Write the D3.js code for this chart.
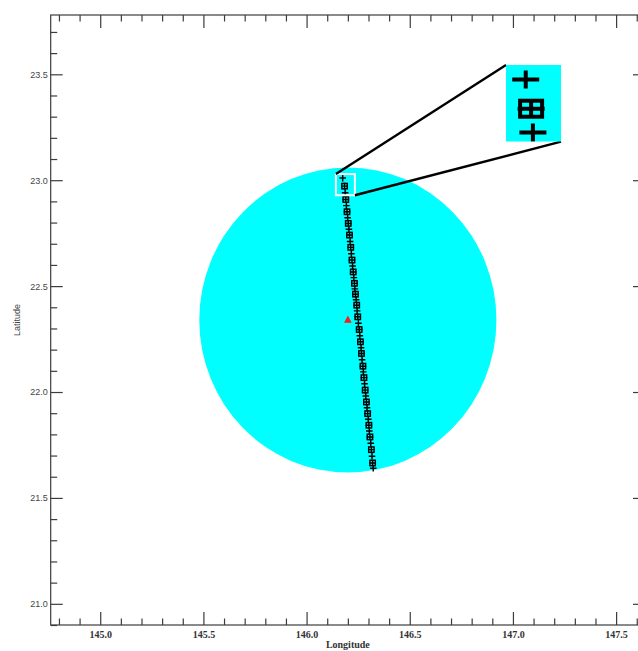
<!DOCTYPE html>
<html>
<head>
<meta charset="utf-8">
<script src="https://cdn.jsdelivr.net/npm/d3@7"></script>
<style>
  html, body { margin: 0; padding: 0; background: #fff; }
  svg { display: block; }
</style>
</head>
<body>
<svg id="chart" width="638" height="651"></svg>
<script>
// Track fixes every other sample (plus markers only)
const plusLon = [146.175, 146.187, 146.193, 146.199, 146.205, 146.211, 146.217, 146.223, 146.229,
  146.234, 146.240, 146.245, 146.251, 146.258, 146.264, 146.269, 146.275, 146.281, 146.287,
  146.293, 146.299, 146.304, 146.311, 146.317, 146.323];
const plusLat = [23.010, 22.941, 22.880, 22.823, 22.768, 22.711, 22.653, 22.595, 22.540,
  22.487, 22.436, 22.383, 22.325, 22.266, 22.209, 22.152, 22.095, 22.039, 21.981,
  21.926, 21.871, 21.816, 21.758, 21.697, 21.640];
// Track fixes drawn as boxed plus markers
const boxLon = [146.184, 146.190, 146.196, 146.202, 146.208, 146.214, 146.220, 146.226,
  146.232, 146.237, 146.243, 146.248, 146.255, 146.261, 146.266, 146.273, 146.278, 146.284,
  146.290, 146.296, 146.302, 146.307, 146.314, 146.320];
const boxLat = [22.972, 22.909, 22.851, 22.796, 22.741, 22.683, 22.623, 22.567,
  22.513, 22.462, 22.410, 22.355, 22.295, 22.237, 22.182, 22.122, 22.068, 22.009,
  21.953, 21.898, 21.843, 21.788, 21.728, 21.665];
// Station and coverage radius (degrees)
const stationLon = 146.2;
const stationLat = 22.34;
const coverRadius = 0.72;
// Map extent
const lonDomain = [144.76, 147.64];
const latDomain = [20.90, 23.78];
const lonMajor = [145.0, 145.5, 146.0, 146.5, 147.0, 147.5];
const latMajor = [21.0, 21.5, 22.0, 22.5, 23.0, 23.5];
const lonMinor = d3.range(144.8, 147.65, 0.1).map(v => +v.toFixed(1)).filter(v => !lonMajor.includes(v));
const latMinor = d3.range(20.9, 23.79, 0.1).map(v => +v.toFixed(1)).filter(v => !latMajor.includes(v));
// Zoomed window on the start of the track
const zoomLon = [146.142, 146.234];
const zoomLat = [23.029, 22.929];

const svg = d3.select("#chart");
const plotL = 50.7, plotR = 645, plotT = 15, plotB = 625;
const x = d3.scaleLinear().domain(lonDomain).range([plotL, plotR]);
const y = d3.scaleLinear().domain(latDomain).range([plotB, plotT]);

const axisColor = "#3c3c3c";

// coverage circle
svg.append("ellipse")
  .attr("cx", x(stationLon)).attr("cy", y(stationLat))
  .attr("rx", x(stationLon + coverRadius) - x(stationLon))
  .attr("ry", y(stationLat - coverRadius) - y(stationLat))
  .attr("fill", "#00ffff");

function plusPath(cx, cy, hw, hh) {
  return `M${cx - hw},${cy}H${cx + hw}M${cx},${cy - hh}V${cy + hh}`;
}

function drawTrack(g, sx, sy, opt) {
  const pts = plusLon.map((d, i) => [d, plusLat[i]]).concat(boxLon.map((d, i) => [d, boxLat[i]]));
  g.selectAll(null).data(pts).enter().append("path")
    .attr("d", d => plusPath(sx(d[0]), sy(d[1]), opt.pw, opt.ph))
    .attr("stroke", "#000").attr("stroke-width", opt.sw).attr("fill", "none");
  g.selectAll(null).data(boxLon.map((d, i) => [d, boxLat[i]])).enter().append("rect")
    .attr("x", d => sx(d[0]) - opt.bw).attr("y", d => sy(d[1]) - opt.bh)
    .attr("width", 2 * opt.bw).attr("height", 2 * opt.bh)
    .attr("stroke", "#000").attr("stroke-width", opt.sw).attr("fill", "none");
}

drawTrack(svg.append("g"), x, y, { pw: 3.3, ph: 3.3, bw: 2.7, bh: 2.7, sw: 1.45 });

// station marker
const tx = x(stationLon), ty = y(stationLat);
svg.append("path")
  .attr("d", `M${tx},${ty - 4.5}L${tx + 3.8},${ty + 2.8}L${tx - 3.8},${ty + 2.8}Z`)
  .attr("fill", "#ff1a1a");

// zoom box
const bx0 = x(zoomLon[0]), bx1 = x(zoomLon[1]), by0 = y(zoomLat[0]), by1 = y(zoomLat[1]);
svg.append("rect").attr("x", bx0).attr("y", by0)
  .attr("width", bx1 - bx0).attr("height", by1 - by0)
  .attr("fill", "none").attr("stroke", "#fff").attr("stroke-width", 2);

// inset
const ix0 = 506, ix1 = 561, iy0 = 65, iy1 = 141.7;
const xi = d3.scaleLinear().domain(zoomLon).range([ix0, ix1]);
const yi = d3.scaleLinear().domain(zoomLat).range([iy0, iy1]);
svg.append("line").attr("x1", bx0).attr("y1", by0).attr("x2", ix0).attr("y2", iy0)
  .attr("stroke", "#000").attr("stroke-width", 2.4);
svg.append("line").attr("x1", bx1).attr("y1", by1).attr("x2", ix1).attr("y2", iy1)
  .attr("stroke", "#000").attr("stroke-width", 2.4);
svg.append("clipPath").attr("id", "insetClip").append("rect")
  .attr("x", ix0).attr("y", iy0).attr("width", ix1 - ix0).attr("height", iy1 - iy0);
const inset = svg.append("g").attr("clip-path", "url(#insetClip)");
inset.append("rect").attr("x", ix0).attr("y", iy0)
  .attr("width", ix1 - ix0).attr("height", iy1 - iy0).attr("fill", "#00ffff");
drawTrack(inset, xi, yi, { pw: 13.5, ph: 9, bw: 11, bh: 8, sw: 4 });

// frame
svg.append("rect").attr("x", plotL).attr("y", plotT)
  .attr("width", plotR - plotL).attr("height", plotB - plotT)
  .attr("fill", "none").attr("stroke", axisColor).attr("stroke-width", 1.2);

function styleAxis(g) {
  g.select(".domain").remove();
  g.selectAll(".tick line").attr("stroke", axisColor).attr("stroke-width", 1.2);
}

// x axes
svg.append("g").attr("transform", `translate(0,${plotB})`)
  .call(d3.axisBottom(x).tickValues(lonMinor).tickSize(-6.5).tickFormat(""))
  .call(styleAxis);
svg.append("g").attr("transform", `translate(0,${plotB})`)
  .call(d3.axisBottom(x).tickValues(lonMajor).tickSize(-13).tickPadding(6).tickFormat(d3.format(".1f")))
  .call(styleAxis)
  .call(g => g.selectAll("text").attr("font-family", "Liberation Serif, serif")
    .attr("font-size", 10).attr("font-weight", "bold").attr("fill", "#333"));
svg.append("g").attr("transform", `translate(0,${plotT})`)
  .call(d3.axisTop(x).tickValues(lonMinor).tickSize(-6.5).tickFormat(""))
  .call(styleAxis);
svg.append("g").attr("transform", `translate(0,${plotT})`)
  .call(d3.axisTop(x).tickValues(lonMajor).tickSize(-13).tickFormat(""))
  .call(styleAxis);

// y axes
svg.append("g").attr("transform", `translate(${plotL},0)`)
  .call(d3.axisLeft(y).tickValues(latMinor).tickSize(-6.5).tickFormat(""))
  .call(styleAxis);
svg.append("g").attr("transform", `translate(${plotL},0)`)
  .call(d3.axisLeft(y).tickValues(latMajor).tickSize(-12).tickPadding(3).tickFormat(d3.format(".1f")))
  .call(styleAxis)
  .call(g => g.selectAll("text").attr("font-family", "Liberation Sans, Arial, sans-serif")
    .attr("font-size", 9).attr("fill", "#444"));
svg.append("g").attr("transform", `translate(${plotR},0)`)
  .call(d3.axisRight(y).tickValues(latMinor).tickSize(-6.5).tickFormat(""))
  .call(styleAxis);
svg.append("g").attr("transform", `translate(${plotR},0)`)
  .call(d3.axisRight(y).tickValues(latMajor).tickSize(-12).tickFormat(""))
  .call(styleAxis);

// axis titles
svg.append("text").attr("x", (plotL + plotR) / 2).attr("y", 648)
  .attr("text-anchor", "middle").attr("font-family", "Liberation Serif, serif")
  .attr("font-size", 10).attr("font-weight", "bold").attr("fill", "#333").text("Longitude");
svg.append("text").attr("transform", `translate(20,${(plotT + plotB) / 2}) rotate(-90)`)
  .attr("text-anchor", "middle").attr("font-family", "Liberation Sans, Arial, sans-serif")
  .attr("font-size", 9).attr("fill", "#444").text("Latitude");
</script>
</body>
</html>
